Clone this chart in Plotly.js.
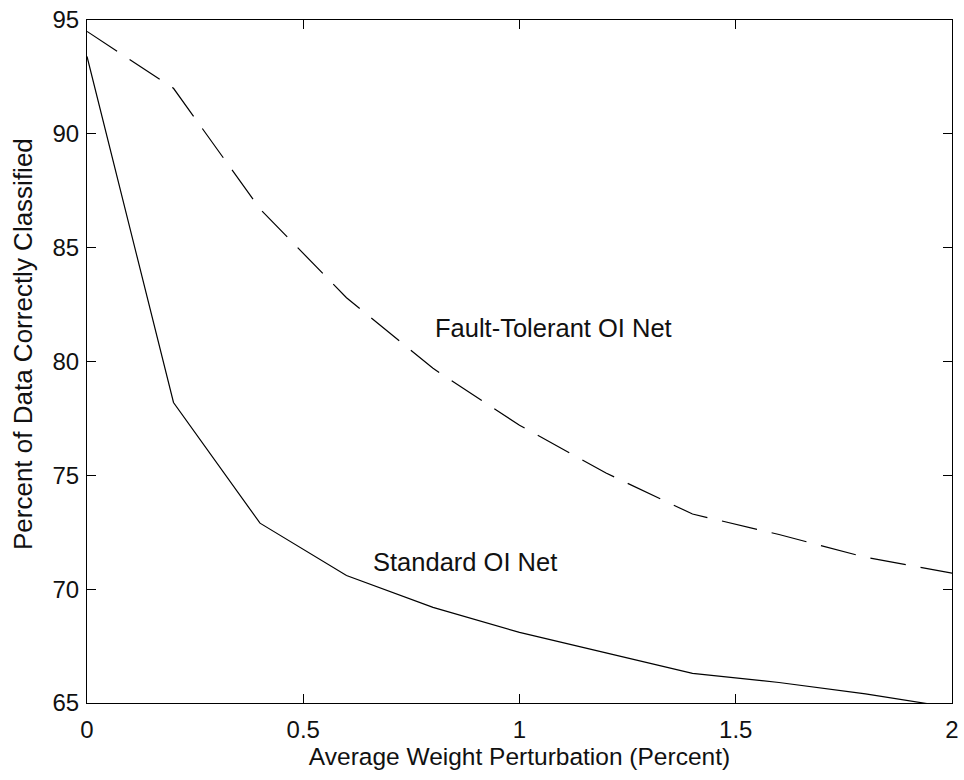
<!DOCTYPE html>
<html>
<head>
<meta charset="utf-8">
<script src="https://cdn.plot.ly/plotly-3.0.1.min.js"></script>
<style>
  html, body { margin: 0; padding: 0; background: #fff; }
  #chart { width: 964px; height: 780px; }
</style>
</head>
<body>
<div id="chart"></div>
<script>
// Data
const perturbation = [0, 0.2, 0.4, 0.6, 0.8, 1.0, 1.2, 1.4, 1.6, 1.8, 2.0];
const standardNet = [93.4, 78.2, 72.9, 70.6, 69.2, 68.1, 67.2, 66.3, 65.9, 65.4, 64.8];
const faultTolerantNet = [94.5, 92.0, 86.7, 82.8, 79.7, 77.2, 75.1, 73.3, 72.4, 71.4, 70.7];
const xTickVals = [0, 0.5, 1, 1.5, 2];
const xTickText = ["0", "0.5", "1", "1.5", "2"];
const yTickVals = [65, 70, 75, 80, 85, 90, 95];
const labelStandard = "Standard OI Net";
const labelFault = "Fault-Tolerant OI Net";
const xTitle = "Average Weight Perturbation (Percent)";
const yTitle = "Percent of Data Correctly Classified";

const FONT = "'Liberation Sans', Arial, sans-serif";
const FS = 24;
const COLOR = "#111";

const traces = [
  {
    x: perturbation, y: standardNet, type: "scatter", mode: "lines",
    line: { color: "#000", width: 1.2 }, name: labelStandard, showlegend: false
  },
  {
    x: perturbation, y: faultTolerantNet, type: "scatter", mode: "lines",
    line: { color: "#000", width: 1.2, dash: "36px,15px" }, name: labelFault, showlegend: false
  }
];

const axisCommon = {
  showline: true, linecolor: "#000", linewidth: 1,
  mirror: "ticks", ticks: "inside", ticklen: 9, tickwidth: 1, tickcolor: "#000",
  showgrid: false, zeroline: false,
  tickfont: { family: FONT, size: FS, color: COLOR }
};

const layout = {
  width: 964, height: 780,
  margin: { l: 87, r: 12, t: 20, b: 77, pad: 0 },
  paper_bgcolor: "#fff", plot_bgcolor: "#fff",
  font: { family: FONT, size: FS, color: COLOR },
  showlegend: false,
  xaxis: Object.assign({}, axisCommon, {
    range: [0, 2], tickmode: "array", tickvals: xTickVals, ticktext: xTickText,
    ticklabelstandoff: 5,
    title: { text: xTitle, font: { family: FONT, size: 24.5, color: COLOR }, standoff: 5 },
    automargin: false
  }),
  yaxis: Object.assign({}, axisCommon, {
    range: [65, 95], tickmode: "array", tickvals: yTickVals,
    ticklabelstandoff: 2,
    automargin: false
  }),
  annotations: [
    { x: 0.8, y: 81.47, xref: "x", yref: "y", text: labelFault, showarrow: false,
      xanchor: "left", yanchor: "middle", font: { family: FONT, size: 25.5, color: COLOR } },
    { x: 0.656, y: 71.2, xref: "x", yref: "y", text: labelStandard, showarrow: false,
      xanchor: "left", yanchor: "middle", font: { family: FONT, size: 25.5, color: COLOR } },
    { x: -0.074, y: 0.5256, xref: "paper", yref: "paper", text: yTitle, showarrow: false,
      textangle: -90, xanchor: "center", yanchor: "middle",
      font: { family: FONT, size: 26, color: COLOR } }
  ]
};

Plotly.newPlot("chart", traces, layout, { staticPlot: true, displayModeBar: false });
</script>
</body>
</html>
